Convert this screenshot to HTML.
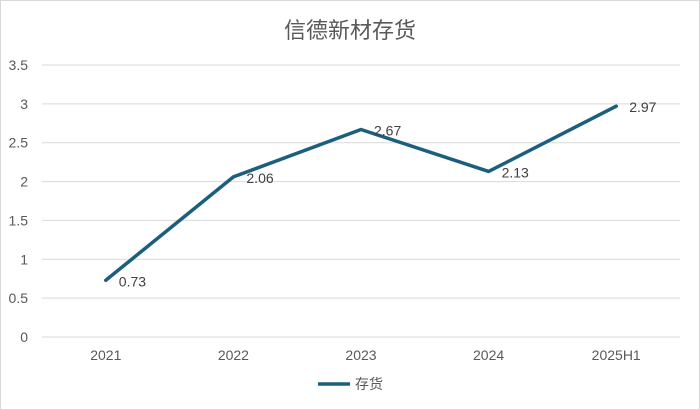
<!DOCTYPE html>
<html><head><meta charset="utf-8"><style>
body{margin:0;background:#fff}
svg{display:block;font-family:"Liberation Sans","Noto Sans CJK SC",sans-serif}
</style></head><body>
<svg id="chart" width="700" height="410">
<rect x="0.5" y="0.5" width="699" height="409" fill="#fff" stroke="#d9d9d9"/>
<text x="350" y="38" text-anchor="middle" font-size="22" fill="#595959">信德新材存货</text>
<g id="grid"></g><g id="ylab"></g><g id="xlab"></g><g id="series"></g>
<g>
<line x1="318" y1="384" x2="350" y2="384" stroke="#1b5e7e" stroke-width="3.5"/>
<text x="355" y="389" font-size="14" fill="#595959">存货</text>
</g>
</svg>
<script>
const categories=["2021","2022","2023","2024","2025H1"];
const values=[0.73,2.06,2.67,2.13,2.97];
const yTicks=[0,0.5,1,1.5,2,2.5,3,3.5];
const yTickLabels=["0","0.5","1","1.5","2","2.5","3","3.5"];
const L=42,R=680,T=65,B=337,yMax=3.5;
const bw=(R-L)/categories.length;
const xs=i=>L+bw*(i+0.5);
const ys=v=>B-(v/yMax)*(B-T);
const NS="http://www.w3.org/2000/svg";
function mk(t,a,p){const e=document.createElementNS(NS,t);for(const k in a)e.setAttribute(k,a[k]);p.appendChild(e);return e;}
const g=document.getElementById('grid'),yl=document.getElementById('ylab'),xl=document.getElementById('xlab'),s=document.getElementById('series');
yTicks.forEach((v,i)=>{
 const ln=mk('line',{x1:L,x2:R,y1:ys(v),y2:ys(v),stroke:'#d9d9d9','stroke-width':1},g);
 
 
 const t=mk('text',{x:28,y:ys(v)+5,'text-anchor':'end','font-size':14,fill:'#595959'},yl);
 t.textContent=yTickLabels[i];
 
 
});
categories.forEach((c,i)=>{
 const t=mk('text',{x:xs(i),y:360,'text-anchor':'middle','font-size':14,fill:'#595959'},xl);
 t.textContent=c;
 
 
});
const p=mk('polyline',{points:values.map((v,i)=>xs(i)+','+ys(v)).join(' '),fill:'none',stroke:'#1b5e7e','stroke-width':3.5,'stroke-linejoin':'round','stroke-linecap':'round'},s);


values.forEach((v,i)=>{
 const t=mk('text',{x:xs(i)+13,y:ys(v)+6,'font-size':14,fill:'#404040'},s);
 t.textContent=v.toFixed(2);
 
 
});
</script>
</body></html>
